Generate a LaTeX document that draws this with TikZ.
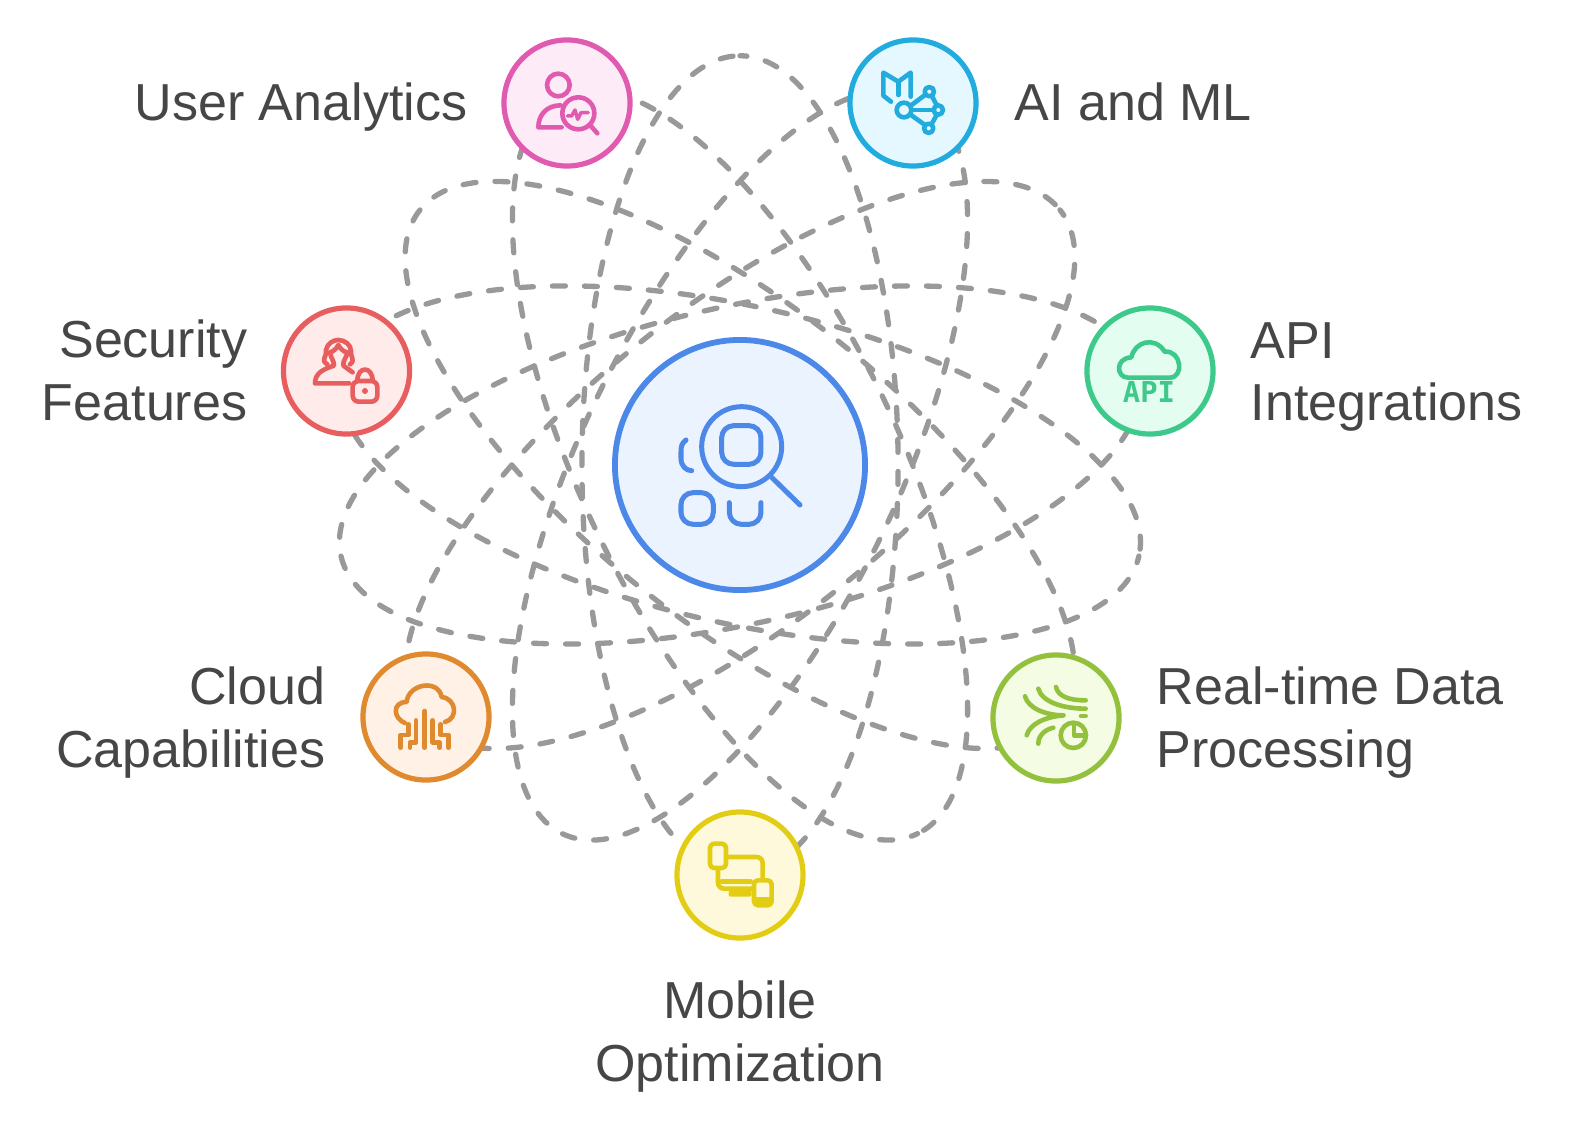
\documentclass[tikz,border=0pt]{standalone}
\usepackage{fontspec}
\setmainfont{Liberation Sans}
\newfontfamily\apifont{DejaVu Sans Mono}
\definecolor{labelgrey}{HTML}{464646}
\definecolor{orbitgrey}{HTML}{999999}
\definecolor{coreline}{HTML}{4C88E8}
\definecolor{corefill}{HTML}{EBF3FF}
\definecolor{userline}{HTML}{E05BB0}
\definecolor{userfill}{HTML}{FEEBF8}
\definecolor{ailine}{HTML}{22ACDD}
\definecolor{aifill}{HTML}{E6F8FF}
\definecolor{secline}{HTML}{E85D5D}
\definecolor{secfill}{HTML}{FFEBEA}
\definecolor{apiline}{HTML}{3CC98A}
\definecolor{apifill}{HTML}{E4FDF1}
\definecolor{cloudline}{HTML}{E08A30}
\definecolor{cloudfill}{HTML}{FFF1E5}
\definecolor{liveline}{HTML}{93C13E}
\definecolor{livefill}{HTML}{F4FDE3}
\definecolor{mobline}{HTML}{E2CD14}
\definecolor{mobfill}{HTML}{FFF9DC}
\tikzset{
	orbit/.style={draw=orbitgrey, line width=0.053cm, line cap=round, dash pattern=on 0.13cm off 0.19cm, dash phase=0.25cm},
	station/.style={circle, line width=0.052cm, minimum size=1.26cm, inner sep=0pt},
	caption/.style={font=\fontsize{14.8}{17.9}\selectfont, text=labelgrey, inner sep=0pt},
	icon/.style={line width=0.046cm, line cap=round, line join=round},
}

\begin{document}
\begin{tikzpicture}[x=0.01cm, y=-0.01cm]
		\useasboundingbox (0,0) rectangle (1591,1127);
		\coordinate (hub) at (740,465);

		% orbits
		\foreach \a in {90,64.29,38.57,12.86,-12.86,-38.57,-64.29}
			\draw [orbit, rotate around={\a:(hub)}] (hub) ellipse [x radius=4.09cm, y radius=1.58cm];

		% centre circle
		\node [circle, draw=coreline, fill=corefill, line width=0.058cm, minimum size=2.5cm, inner sep=0pt] (core) at (hub) {};

		% outer circles
		\foreach \m/\x/\y in {user/567/103, ai/913/103, sec/346.5/371, api/1150/371, cloud/426/717, live/1056/718, mob/740/875}
			\node [station, draw=\m line, fill=\m fill] (\m) at (\x,\y) {};

		% captions on the left
		\foreach \m/\l/\x/\y in {user/{User Analytics}/468/107, sec/{Security\\Features}/248/370, cloud/{Cloud\\Capabilities}/326/723}
			\node [caption, anchor=east, align=right] (\m-text) at (\x,\y) {\l};

		% captions on the right
		\foreach \m/\l/\x/\y in {ai/{AI and ML}/1014/102, api/{API\\Integrations}/1250/377, live/{Real-time Data\\Processing}/1156/723}
			\node [caption, anchor=west, align=left] (\m-text) at (\x,\y) {\l};

		% caption below
		\node [caption, align=center] (mob-text) at (740,1037) {Mobile\\Optimization};

		% core icon
		\begin{scope}[shift={(600,330)}, scale=0.3333, icon, draw=coreline, line width=0.05cm]
			\draw (425,350) circle [radius=120];
			\draw [rounded corners=0.12cm] (365,287) rectangle (483,403);
			\draw (515,442) -- (600,525);
			\draw (258,330) .. controls (245,340) and (243,350) .. (243,365) -- (243,385) .. controls (243,408) and (258,422) .. (275,422);
			\draw [rounded corners=0.12cm] (243,488) rectangle (340,583);
			\draw [rounded corners=0.12cm] (388,518) -- (388,583) -- (483,583) -- (483,518);
		\end{scope}

		% user icon
		\begin{scope}[shift={(490,30)}, scale=0.3333, icon, draw=userline]
			\draw (205,165) circle [radius=34];
			\draw (212,226) .. controls (170,226) and (145,255) .. (145,292) -- (215,292);
			\draw (265,250) circle [radius=48];
			\draw (300,285) -- (322,310);
			\draw [line width=0.035cm] (232,258) -- (245,258) -- (255,240) -- (263,268) -- (273,248) -- (295,248);
		\end{scope}

		% ai icon
		\begin{scope}[shift={(830,30)}, scale=0.3333, icon, draw=ailine]
			\draw (183,215) -- (160,197) -- (160,128) -- (205,155) -- (242,128) -- (242,200);
			\draw (205,155) -- (205,195);
			\draw (222,240) circle [radius=22];
			\draw (298,185) circle [radius=14];
			\draw (325,240) circle [radius=14];
			\draw (296,295) circle [radius=14];
			\draw (245,225) -- (285,195);
			\draw (245,240) -- (310,240);
			\draw (243,255) -- (285,285);
			\draw (305,197) -- (320,225);
			\draw (320,255) -- (305,282);
		\end{scope}

		% security icon
		\begin{scope}[shift={(270,295)}, scale=0.3333, icon, draw=secline]
			\draw (172,208) .. controls (150,195) and (172,185) .. (168,165) .. controls (172,145) and (190,135) .. (205,135) .. controls (225,135) and (243,150) .. (243,168) .. controls (240,185) and (258,195) .. (240,208);
			\draw (180,172) .. controls (190,170) and (200,160) .. (205,150) .. controls (210,160) and (222,172) .. (232,172);
			\draw (180,172) .. controls (182,190) and (192,195) .. (192,212) .. controls (160,222) and (135,235) .. (135,265) -- (238,265);
			\draw (232,172) .. controls (230,190) and (218,195) .. (220,212) -- (248,232);
			\draw [rounded corners=0.06cm] (248,258) rectangle (322,320);
			\draw (262,258) .. controls (262,212) and (308,212) .. (308,258);
			\fill [secline] (285,288) circle [radius=9];
		\end{scope}

		% api icon
		\begin{scope}[shift={(1063,295)}, scale=0.3333, icon, draw=apiline]
			\draw (320,248) -- (195,248) .. controls (160,248) and (155,190) .. (205,187) .. controls (215,140) and (275,122) .. (305,170) .. controls (355,165) and (365,248) .. (320,248);
			\node [font=\apifont\bfseries\fontsize{8.2}{9}\selectfont, text=apiline, inner sep=0pt] (api-icon) at (258,292) {API};
		\end{scope}

		% cloud icon
		\begin{scope}[shift={(350,637)}, scale=0.3333, icon, draw=cloudline]
			\draw (165,258) .. controls (130,245) and (125,195) .. (170,195) .. controls (175,140) and (265,125) .. (275,180) .. controls (320,185) and (325,245) .. (285,255);
			\draw (224,222) -- (224,332);
			\draw (175,262) -- (175,294) -- (152,294) -- (152,332);
			\draw (198,250) -- (198,316) -- (180,316) -- (180,332);
			\draw (248,250) -- (248,316) -- (268,316) -- (268,332);
			\draw (272,262) -- (272,294) -- (295,294) -- (295,332);
		\end{scope}

		% real-time icon
		\begin{scope}[shift={(970,637)}, scale=0.3333, icon, draw=liveline]
			\draw (165,178) .. controls (175,215) and (230,235) .. (280,235);
			\draw (205,155) .. controls (215,195) and (280,215) .. (347,215);
			\draw (258,150) .. controls (265,180) and (300,190) .. (347,190);
			\draw (333,237) -- (347,237);
			\draw (170,295) .. controls (180,260) and (225,240) .. (280,235);
			\draw (205,320) .. controls (205,295) and (225,278) .. (250,272);
			\draw (310,295) circle [radius=38];
			\draw (312,265) -- (312,295) -- (345,295);
		\end{scope}

		% mobile icon
		\begin{scope}[shift={(660,792)}, scale=0.3333, icon, draw=mobline]
			\draw [rounded corners=0.04cm] (150,155) rectangle (198,228);
			\draw [rounded corners=0.06cm] (198,195) -- (308,195) -- (308,262);
			\draw [rounded corners=0.06cm] (174,232) -- (174,290) -- (278,290);
			\draw (185,268) -- (272,268);
			\fill [mobline, rounded corners=0.02cm] (206,296) rectangle (275,314);
			\draw [rounded corners=0.04cm] (282,265) rectangle (335,340);
			\fill [mobline, rounded corners=0.03cm] (282,315) rectangle (335,340);
		\end{scope}

\end{tikzpicture}
\end{document}
